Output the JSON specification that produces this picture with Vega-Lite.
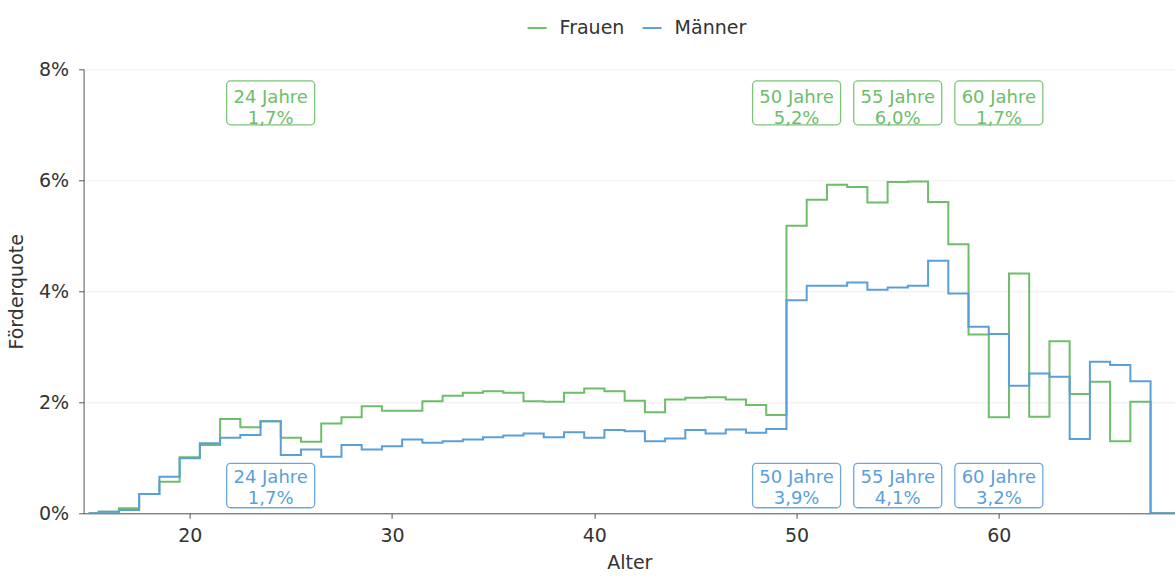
{
  "$schema": "https://vega.github.io/schema/vega-lite/v6.json",
  "width": 1091.4,
  "height": 444,
  "autosize": "none",
  "padding": {"left": 83.6, "top": 69.3, "right": 0, "bottom": 65.7},
  "background": "white",
  "config": {
    "view": {"stroke": null},
    "font": "DejaVu Sans",
    "axis": {
      "domainColor": "#555555",
      "tickColor": "#555555",
      "tickSize": 5,
      "labelFontSize": 19,
      "labelColor": "#333333",
      "titleFontSize": 19,
      "titleColor": "#333333",
      "titleFontWeight": "normal",
      "gridColor": "#eeeeee",
      "labelPadding": 8
    },
    "legend": {
      "symbolType": "stroke",
      "symbolStrokeWidth": 2,
      "symbolSize": 361,
      "labelFontSize": 19,
      "labelColor": "#333333",
      "labelOffset": 12,
      "columnPadding": 14
    }
  },
  "datasets": {
    "series": [
      {"age": 15, "sex": "Frauen", "value": 0.0}, {"age": 15, "sex": "Männer", "value": 0.0},
      {"age": 16, "sex": "Frauen", "value": 0.03}, {"age": 16, "sex": "Männer", "value": 0.03},
      {"age": 17, "sex": "Frauen", "value": 0.09}, {"age": 17, "sex": "Männer", "value": 0.06},
      {"age": 18, "sex": "Frauen", "value": 0.35}, {"age": 18, "sex": "Männer", "value": 0.35},
      {"age": 19, "sex": "Frauen", "value": 0.57}, {"age": 19, "sex": "Männer", "value": 0.66},
      {"age": 20, "sex": "Frauen", "value": 1.01}, {"age": 20, "sex": "Männer", "value": 0.99},
      {"age": 21, "sex": "Frauen", "value": 1.23}, {"age": 21, "sex": "Männer", "value": 1.26},
      {"age": 22, "sex": "Frauen", "value": 1.70}, {"age": 22, "sex": "Männer", "value": 1.36},
      {"age": 23, "sex": "Frauen", "value": 1.55}, {"age": 23, "sex": "Männer", "value": 1.41},
      {"age": 24, "sex": "Frauen", "value": 1.66}, {"age": 24, "sex": "Männer", "value": 1.66},
      {"age": 25, "sex": "Frauen", "value": 1.36}, {"age": 25, "sex": "Männer", "value": 1.05},
      {"age": 26, "sex": "Frauen", "value": 1.29}, {"age": 26, "sex": "Männer", "value": 1.15},
      {"age": 27, "sex": "Frauen", "value": 1.62}, {"age": 27, "sex": "Männer", "value": 1.02},
      {"age": 28, "sex": "Frauen", "value": 1.73}, {"age": 28, "sex": "Männer", "value": 1.23},
      {"age": 29, "sex": "Frauen", "value": 1.93}, {"age": 29, "sex": "Männer", "value": 1.15},
      {"age": 30, "sex": "Frauen", "value": 1.85}, {"age": 30, "sex": "Männer", "value": 1.21},
      {"age": 31, "sex": "Frauen", "value": 1.85}, {"age": 31, "sex": "Männer", "value": 1.33},
      {"age": 32, "sex": "Frauen", "value": 2.02}, {"age": 32, "sex": "Männer", "value": 1.27},
      {"age": 33, "sex": "Frauen", "value": 2.12}, {"age": 33, "sex": "Männer", "value": 1.30},
      {"age": 34, "sex": "Frauen", "value": 2.17}, {"age": 34, "sex": "Männer", "value": 1.33},
      {"age": 35, "sex": "Frauen", "value": 2.20}, {"age": 35, "sex": "Männer", "value": 1.37},
      {"age": 36, "sex": "Frauen", "value": 2.17}, {"age": 36, "sex": "Männer", "value": 1.40},
      {"age": 37, "sex": "Frauen", "value": 2.02}, {"age": 37, "sex": "Männer", "value": 1.44},
      {"age": 38, "sex": "Frauen", "value": 2.01}, {"age": 38, "sex": "Männer", "value": 1.37},
      {"age": 39, "sex": "Frauen", "value": 2.17}, {"age": 39, "sex": "Männer", "value": 1.46},
      {"age": 40, "sex": "Frauen", "value": 2.25}, {"age": 40, "sex": "Männer", "value": 1.36},
      {"age": 41, "sex": "Frauen", "value": 2.20}, {"age": 41, "sex": "Männer", "value": 1.50},
      {"age": 42, "sex": "Frauen", "value": 2.03}, {"age": 42, "sex": "Männer", "value": 1.48},
      {"age": 43, "sex": "Frauen", "value": 1.82}, {"age": 43, "sex": "Männer", "value": 1.30},
      {"age": 44, "sex": "Frauen", "value": 2.05}, {"age": 44, "sex": "Männer", "value": 1.35},
      {"age": 45, "sex": "Frauen", "value": 2.08}, {"age": 45, "sex": "Männer", "value": 1.50},
      {"age": 46, "sex": "Frauen", "value": 2.09}, {"age": 46, "sex": "Männer", "value": 1.44},
      {"age": 47, "sex": "Frauen", "value": 2.05}, {"age": 47, "sex": "Männer", "value": 1.51},
      {"age": 48, "sex": "Frauen", "value": 1.95}, {"age": 48, "sex": "Männer", "value": 1.45},
      {"age": 49, "sex": "Frauen", "value": 1.77}, {"age": 49, "sex": "Männer", "value": 1.52},
      {"age": 50, "sex": "Frauen", "value": 5.18}, {"age": 50, "sex": "Männer", "value": 3.84},
      {"age": 51, "sex": "Frauen", "value": 5.65}, {"age": 51, "sex": "Männer", "value": 4.10},
      {"age": 52, "sex": "Frauen", "value": 5.92}, {"age": 52, "sex": "Männer", "value": 4.10},
      {"age": 53, "sex": "Frauen", "value": 5.88}, {"age": 53, "sex": "Männer", "value": 4.16},
      {"age": 54, "sex": "Frauen", "value": 5.60}, {"age": 54, "sex": "Männer", "value": 4.03},
      {"age": 55, "sex": "Frauen", "value": 5.97}, {"age": 55, "sex": "Männer", "value": 4.07},
      {"age": 56, "sex": "Frauen", "value": 5.98}, {"age": 56, "sex": "Männer", "value": 4.10},
      {"age": 57, "sex": "Frauen", "value": 5.61}, {"age": 57, "sex": "Männer", "value": 4.55},
      {"age": 58, "sex": "Frauen", "value": 4.85}, {"age": 58, "sex": "Männer", "value": 3.96},
      {"age": 59, "sex": "Frauen", "value": 3.22}, {"age": 59, "sex": "Männer", "value": 3.36},
      {"age": 60, "sex": "Frauen", "value": 1.73}, {"age": 60, "sex": "Männer", "value": 3.23},
      {"age": 61, "sex": "Frauen", "value": 4.32}, {"age": 61, "sex": "Männer", "value": 2.30},
      {"age": 62, "sex": "Frauen", "value": 1.74}, {"age": 62, "sex": "Männer", "value": 2.52},
      {"age": 63, "sex": "Frauen", "value": 3.10}, {"age": 63, "sex": "Männer", "value": 2.46},
      {"age": 64, "sex": "Frauen", "value": 2.15}, {"age": 64, "sex": "Männer", "value": 1.34},
      {"age": 65, "sex": "Frauen", "value": 2.37}, {"age": 65, "sex": "Männer", "value": 2.73},
      {"age": 66, "sex": "Frauen", "value": 1.30}, {"age": 66, "sex": "Männer", "value": 2.67},
      {"age": 67, "sex": "Frauen", "value": 2.01}, {"age": 67, "sex": "Männer", "value": 2.38},
      {"age": 68, "sex": "Frauen", "value": 0.0}, {"age": 68, "sex": "Männer", "value": 0.0},
      {"age": 69, "sex": "Frauen", "value": 0.0}, {"age": 69, "sex": "Männer", "value": 0.0}
    ],
    "notes": [
      {"age": 24, "sex": "Frauen", "label": "1,7%"},
      {"age": 50, "sex": "Frauen", "label": "5,2%"},
      {"age": 55, "sex": "Frauen", "label": "6,0%"},
      {"age": 60, "sex": "Frauen", "label": "1,7%"},
      {"age": 24, "sex": "Männer", "label": "1,7%"},
      {"age": 50, "sex": "Männer", "label": "3,9%"},
      {"age": 55, "sex": "Männer", "label": "4,1%"},
      {"age": 60, "sex": "Männer", "label": "3,2%"}
    ]
  },
  "layer": [
    {
      "data": {"name": "series"},
      "mark": {"type": "line", "interpolate": "step", "strokeWidth": 2, "clip": true},
      "encoding": {
        "x": {
          "field": "age", "type": "quantitative",
          "scale": {"domain": [15, 68.46], "nice": false, "zero": false},
          "axis": {"values": [20, 30, 40, 50, 60], "title": "Alter", "grid": false, "titlePadding": 8}
        },
        "y": {
          "field": "value", "type": "quantitative",
          "scale": {"domain": [0, 8], "nice": false},
          "axis": {"values": [0, 2, 4, 6, 8], "labelExpr": "datum.value + '%'", "title": "Förderquote", "grid": true, "labelPadding": 10, "titlePadding": 12}
        },
        "color": {
          "field": "sex", "type": "nominal",
          "scale": {"domain": ["Frauen", "Männer"], "range": ["#6dbd6a", "#5b9fd9"]},
          "legend": {"orient": "none", "title": null, "direction": "horizontal", "legendX": 443, "legendY": -52}
        }
      }
    },
    {
      "data": {"name": "notes"},
      "transform": [{"filter": "datum.sex == 'Frauen'"}],
      "mark": {"type": "bar", "width": 88, "fill": "white", "stroke": "#7cc47a", "strokeWidth": 1.3, "cornerRadius": 4},
      "encoding": {
        "x": {"field": "age", "type": "quantitative"},
        "y": {"datum": 7.79},
        "y2": {"datum": 7.0}
      }
    },
    {
      "data": {"name": "notes"},
      "transform": [{"filter": "datum.sex == 'Frauen'"}, {"calculate": "datum.age + ' Jahre\\n' + datum.label", "as": "txt"}],
      "mark": {"type": "text", "lineBreak": "\n", "lineHeight": 21, "fontSize": 18, "color": "#6dbd6a", "baseline": "middle", "align": "center"},
      "encoding": {
        "x": {"field": "age", "type": "quantitative"},
        "y": {"datum": 7.49},
        "text": {"field": "txt"}
      }
    },
    {
      "data": {"name": "notes"},
      "transform": [{"filter": "datum.sex == 'Männer'"}],
      "mark": {"type": "bar", "width": 88, "fill": "white", "stroke": "#6aa8df", "strokeWidth": 1.3, "cornerRadius": 4},
      "encoding": {
        "x": {"field": "age", "type": "quantitative"},
        "y": {"datum": 0.9},
        "y2": {"datum": 0.1}
      }
    },
    {
      "data": {"name": "notes"},
      "transform": [{"filter": "datum.sex == 'Männer'"}, {"calculate": "datum.age + ' Jahre\\n' + datum.label", "as": "txt"}],
      "mark": {"type": "text", "lineBreak": "\n", "lineHeight": 21, "fontSize": 18, "color": "#5b9fd9", "baseline": "middle", "align": "center"},
      "encoding": {
        "x": {"field": "age", "type": "quantitative"},
        "y": {"datum": 0.63},
        "text": {"field": "txt"}
      }
    }
  ]
}
